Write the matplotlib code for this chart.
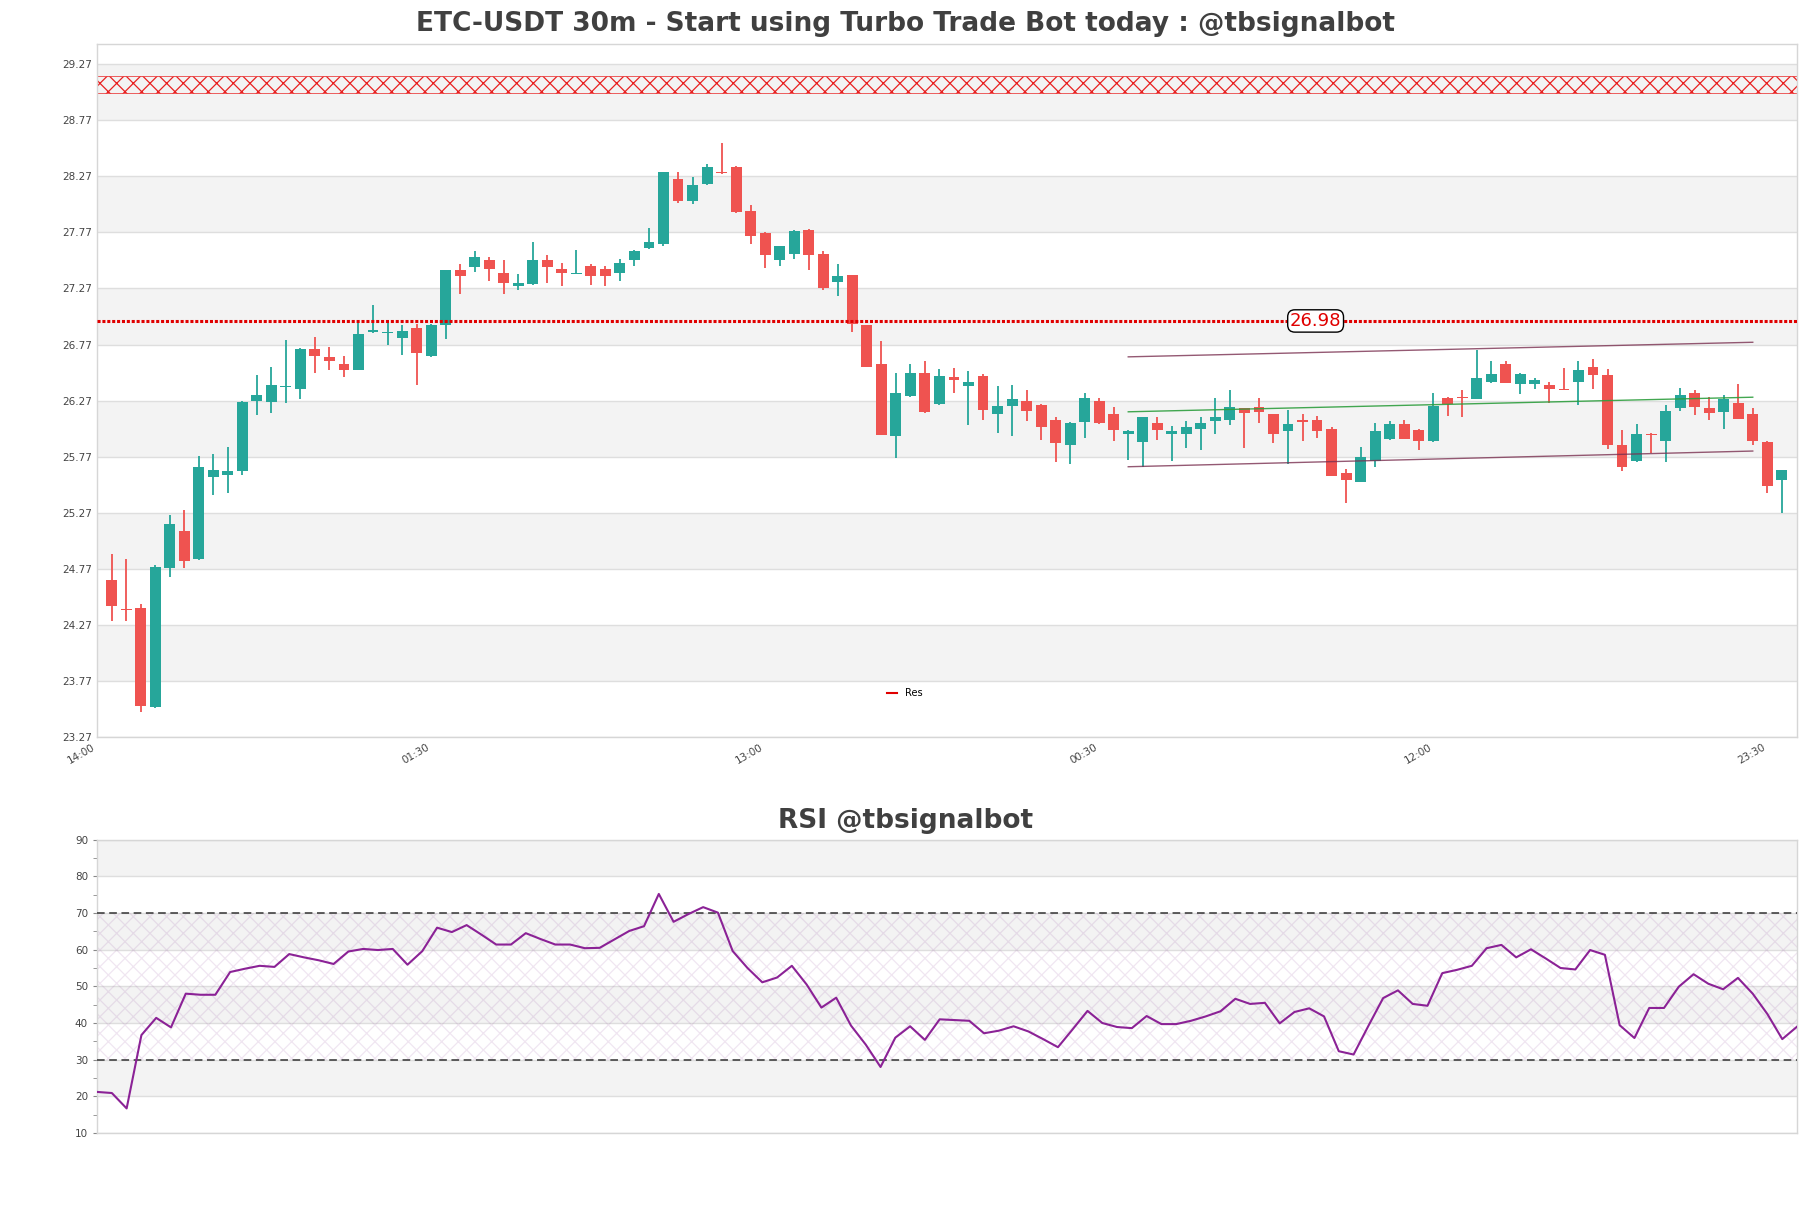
import matplotlib
matplotlib.use("Agg")
import matplotlib.pyplot as plt
from matplotlib.lines import Line2D

# --- candle data (30m) ---
opens = [24.67, 24.41, 24.42, 23.54, 24.78, 25.11, 24.86, 25.59, 25.61, 25.64,
         26.27, 26.26, 26.39, 26.37, 26.73, 26.66, 26.60, 26.54, 26.88, 26.87,
         26.83, 26.92, 26.67, 26.94, 27.43, 27.46, 27.52, 27.41, 27.29, 27.31,
         27.52, 27.44, 27.40, 27.47, 27.44, 27.41, 27.52, 27.63, 27.67, 28.25,
         28.05, 28.20, 28.31, 28.35, 27.96, 27.76, 27.52, 27.58, 27.79, 27.58,
         27.33, 27.39, 26.94, 26.60, 25.95, 26.31, 26.52, 26.24, 26.48, 26.40,
         26.49, 26.15, 26.22, 26.27, 26.23, 26.10, 25.87, 26.08, 26.27, 26.15,
         25.97, 25.90, 26.07, 25.97, 25.97, 26.02, 26.09, 26.10, 26.20, 26.21,
         26.15, 26.00, 26.10, 26.10, 26.02, 25.62, 25.54, 25.73, 25.93, 26.06,
         26.01, 25.91, 26.29, 26.30, 26.28, 26.44, 26.60, 26.42, 26.42, 26.41,
         26.37, 26.44, 26.57, 26.50, 25.87, 25.73, 25.97, 25.91, 26.20, 26.34,
         26.20, 26.17, 26.25, 26.15, 25.90, 25.56]
highs = [24.90, 24.86, 24.46, 24.80, 25.25, 25.29, 25.78, 25.79, 25.86, 26.27,
         26.50, 26.57, 26.81, 26.74, 26.84, 26.75, 26.67, 26.99, 27.12, 26.97,
         26.94, 26.95, 26.95, 27.43, 27.49, 27.60, 27.55, 27.52, 27.40, 27.68,
         27.57, 27.50, 27.61, 27.49, 27.47, 27.53, 27.61, 27.81, 28.31, 28.31,
         28.26, 28.38, 28.57, 28.36, 28.01, 27.77, 27.65, 27.79, 27.80, 27.60,
         27.49, 27.39, 26.94, 26.80, 26.52, 26.60, 26.62, 26.55, 26.56, 26.53,
         26.51, 26.40, 26.41, 26.36, 26.24, 26.12, 26.08, 26.34, 26.29, 26.21,
         26.01, 26.12, 26.12, 26.04, 26.09, 26.12, 26.29, 26.36, 26.20, 26.29,
         26.15, 26.19, 26.15, 26.13, 26.03, 25.66, 25.86, 26.07, 26.09, 26.10,
         26.02, 26.34, 26.30, 26.36, 26.72, 26.62, 26.62, 26.52, 26.47, 26.44,
         26.56, 26.62, 26.64, 26.55, 26.01, 26.06, 25.98, 26.23, 26.38, 26.36,
         26.30, 26.32, 26.42, 26.20, 25.91, 25.65]
lows = [24.30, 24.30, 23.49, 23.53, 24.70, 24.78, 24.85, 25.43, 25.45, 25.61,
        26.14, 26.16, 26.25, 26.28, 26.52, 26.54, 26.48, 26.54, 26.87, 26.77,
        26.68, 26.41, 26.66, 26.82, 27.22, 27.42, 27.34, 27.22, 27.26, 27.30,
        27.32, 27.29, 27.40, 27.30, 27.29, 27.34, 27.47, 27.62, 27.65, 28.03,
        28.02, 28.19, 28.29, 27.94, 27.67, 27.45, 27.47, 27.53, 27.43, 27.26,
        27.20, 26.88, 26.57, 25.96, 25.76, 26.30, 26.16, 26.23, 26.34, 26.05,
        26.10, 25.98, 25.95, 26.09, 25.92, 25.72, 25.70, 25.94, 26.06, 25.91,
        25.74, 25.68, 25.92, 25.73, 25.85, 25.83, 25.97, 26.05, 25.85, 26.07,
        25.89, 25.70, 25.91, 25.94, 25.60, 25.36, 25.54, 25.68, 25.92, 25.93,
        25.83, 25.90, 26.13, 26.12, 26.28, 26.43, 26.43, 26.33, 26.37, 26.25,
        26.36, 26.23, 26.37, 25.84, 25.64, 25.72, 25.80, 25.72, 26.18, 26.14,
        26.10, 26.02, 26.11, 25.87, 25.45, 25.27]
closes = [24.44, 24.40, 23.55, 24.79, 25.17, 24.84, 25.68, 25.65, 25.64, 26.26,
          26.32, 26.41, 26.40, 26.73, 26.67, 26.62, 26.54, 26.86, 26.90, 26.88,
          26.89, 26.69, 26.94, 27.43, 27.38, 27.55, 27.44, 27.32, 27.32, 27.52,
          27.46, 27.41, 27.41, 27.38, 27.38, 27.50, 27.60, 27.68, 28.31, 28.05,
          28.19, 28.35, 28.30, 27.95, 27.74, 27.57, 27.65, 27.78, 27.57, 27.27,
          27.38, 26.95, 26.57, 25.96, 26.34, 26.52, 26.17, 26.49, 26.45, 26.44,
          26.19, 26.22, 26.28, 26.18, 26.03, 25.89, 26.07, 26.29, 26.07, 26.01,
          26.00, 26.12, 26.01, 26.00, 26.03, 26.07, 26.12, 26.21, 26.16, 26.17,
          25.97, 26.06, 26.08, 26.00, 25.60, 25.56, 25.77, 26.00, 26.06, 25.93,
          25.91, 26.22, 26.24, 26.29, 26.47, 26.51, 26.43, 26.51, 26.45, 26.37,
          26.36, 26.54, 26.50, 25.87, 25.68, 25.97, 25.96, 26.18, 26.32, 26.21,
          26.16, 26.28, 26.11, 25.91, 25.51, 25.65]

rsi = [21.2, 20.9, 16.7, 36.7, 41.4, 38.8, 48.0, 47.7, 47.7, 53.9,
       54.8, 55.6, 55.3, 58.8, 57.9, 57.1, 56.1, 59.5, 60.2, 59.9,
       60.2, 55.9, 59.6, 66.0, 64.8, 66.7, 64.1, 61.4, 61.4, 64.5,
       62.9, 61.4, 61.4, 60.4, 60.5, 62.8, 65.1, 66.4, 75.2, 67.6,
       69.7, 71.6, 70.1, 59.6, 55.0, 51.1, 52.4, 55.6, 50.5, 44.2,
       46.9, 39.3, 34.1, 28.0, 36.0, 39.1, 35.4, 41.0, 40.8, 40.6,
       37.2, 37.9, 39.1, 37.7, 35.6, 33.4, 38.3, 43.3, 40.0, 38.9,
       38.6, 41.9, 39.7, 39.7, 40.6, 41.8, 43.2, 46.6, 45.2, 45.5,
       39.9, 43.0, 44.0, 41.8, 32.3, 31.4, 39.2, 46.8, 48.9, 45.2,
       44.7, 53.6, 54.5, 55.6, 60.4, 61.3, 57.9, 60.1, 57.6, 55.0,
       54.6, 59.9, 58.6, 39.4, 35.9, 44.1, 44.1, 49.9, 53.3, 50.7,
       49.2, 52.3, 48.0, 42.4, 35.6, 39.0]

time_ticks = [0, 23, 46, 69, 92, 115]
time_labels = ['14:00', '01:30', '13:00', '00:30', '12:00', '23:30']

price_ticks = [23.27, 23.77, 24.27, 24.77, 25.27, 25.77, 26.27, 26.77, 27.27, 27.77, 28.27, 28.77, 29.27]
res_level = 26.98
res_zone = (29.01, 29.16)

# channel drawn over the last part of the chart (start/end index and prices)
chan_x = [71, 114]
chan_upper = [26.66, 26.79]
chan_mid = [26.17, 26.30]
chan_lower = [25.68, 25.82]

GREEN = '#26a69a'
RED = '#ef5350'
BAND = '#f3f3f3'
GRID = '#dedede'
TXT = '#404040'


def style_axes(ax):
    for s in ax.spines.values():
        s.set_color('#d6d6d6')
        s.set_linewidth(1.0)
    ax.tick_params(colors='#444444', labelsize=7.5, length=0)


def draw_bands(ax, edges):
    # alternating grey bands between grid lines, starting from the top pair
    for k in range(len(edges) - 1, 0, -2):
        ax.axhspan(edges[k - 1], edges[k], color=BAND, zorder=0, lw=0)
    for v in edges:
        ax.axhline(v, color=GRID, lw=1.0, zorder=0.5)


fig = plt.figure(figsize=(18.11, 12.08), dpi=100)
ax = fig.add_axes([0.0536, 0.3899, 0.9387, 0.5737])
ax2 = fig.add_axes([0.0536, 0.0621, 0.9387, 0.2428])

# --- price panel ---
draw_bands(ax, price_ticks)
n = len(opens)
xs = list(range(1, n + 1))
colors = [GREEN if c >= o else RED for o, c in zip(opens, closes)]
ax.vlines(xs, lows, highs, colors=colors, lw=1.3, zorder=2)
bottoms = [min(o, c) for o, c in zip(opens, closes)]
heights = [max(abs(c - o), 0.012) for o, c in zip(opens, closes)]
ax.bar(xs, heights, bottom=bottoms, width=0.75, color=colors, zorder=3, lw=0)

plt.rcParams['hatch.linewidth'] = 0.9
ax.fill_between([0, n + 1.05], res_zone[0], res_zone[1], facecolor='none',
                edgecolor='#e82020', hatch='xx', lw=0.5, zorder=1)

ax.axhline(res_level, color='#e00000', lw=2.2, ls=(0, (1, 0.6)), zorder=4)
ax.text(83.9, res_level, f'{res_level:.2f}', color='#e00000', fontsize=13,
        ha='center', va='center', zorder=6,
        bbox=dict(boxstyle='round,pad=0.12,rounding_size=0.4', fc='white', ec='black', lw=1))

ax.plot(chan_x, chan_upper, color='#7a3050', lw=1.0, alpha=0.8, zorder=4)
ax.plot(chan_x, chan_lower, color='#7a3050', lw=1.0, alpha=0.8, zorder=4)
ax.plot(chan_x, chan_mid, color='#2e9e3e', lw=1.0, alpha=0.9, zorder=4)

ax.set_xlim(0, n + 1.05)
ax.set_ylim(23.27, 29.45)
ax.set_yticks(price_ticks)
ax.set_yticklabels([f'{v:.2f}' for v in price_ticks])
ax.set_xticks(time_ticks)
ax.set_xticklabels(time_labels, rotation=30, ha='right')
style_axes(ax)
ax.legend(handles=[Line2D([0], [0], color='#e00000', lw=1.5)], labels=['Res'],
          loc='lower center', bbox_to_anchor=(0.475, 0.043), frameon=False,
          fontsize=7, handlelength=1.0)

# titles sit on the figure centre, not the axes centre
fig.text(0.5, 0.980, 'ETC-USDT 30m - Start using Turbo Trade Bot today : @tbsignalbot',
         fontsize=19, fontweight='bold', color=TXT, ha='center', va='center')
fig.text(0.5, 0.320, 'RSI @tbsignalbot', fontsize=19, fontweight='bold',
         color=TXT, ha='center', va='center')

# --- RSI panel ---
draw_bands(ax2, [10, 20, 30, 40, 50, 60, 70, 80, 90])
ax2.fill_between([0, n - 1], 30, 70, facecolor='none', edgecolor=(0.55, 0.25, 0.6, 0.13),
                 hatch='xx', lw=0, zorder=1)
ax2.axhline(30, color='#333333', lw=1.1, ls=(0, (5, 3)), zorder=3)
ax2.axhline(70, color='#333333', lw=1.1, ls=(0, (5, 3)), zorder=3)
ax2.plot(range(n), rsi, color='#8b2296', lw=1.5, zorder=4)
ax2.set_xlim(0, n - 1)
ax2.set_ylim(10, 90)
ax2.set_yticks(range(10, 91, 10))
ax2.set_yticks(range(15, 90, 10), minor=True)
ax2.set_xticks([])
style_axes(ax2)
ax2.tick_params(axis='y', which='both', length=3, color='#888888')

fig.savefig('out.png', dpi=100)
